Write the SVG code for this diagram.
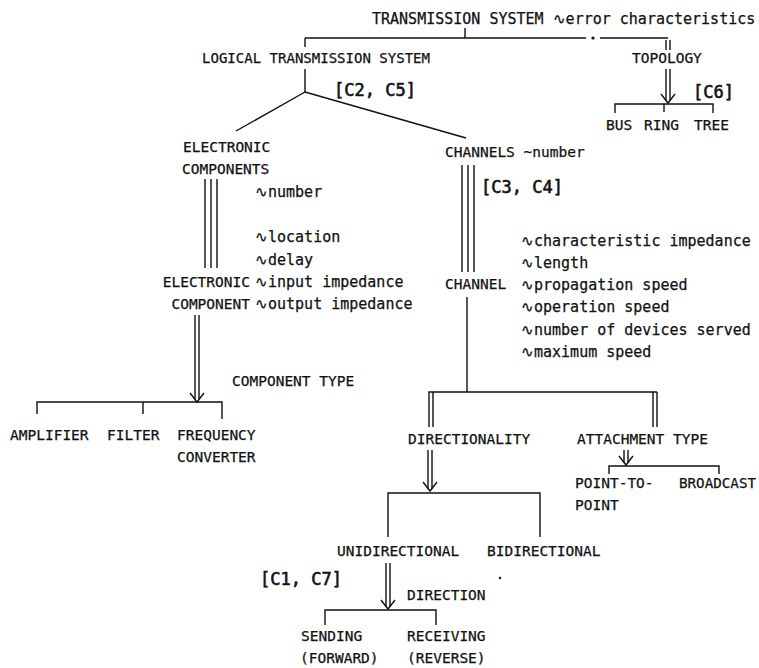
<svg xmlns="http://www.w3.org/2000/svg" width="759" height="668" viewBox="0 0 759 668">
<style>
text{font-family:"DejaVu Sans Mono","Liberation Mono",monospace;font-size:14.5px;fill:#111;stroke:#111;stroke-width:0.25}
.lc{font-size:15px}
.big{font-size:17px;stroke-width:0.6}
.r{text-anchor:end}
.ln{fill:none;stroke:#111;stroke-width:1.4}
</style>
<defs>
<path id="ah" d="M-7,-9 L0,0 L7,-9" class="ln"/>
</defs>
<rect width="759" height="668" fill="#fff"/>
<g id="connectors" class="ln">
<path d="M465,28V38 M305,38H586 M600,38H668 M305,38V47"/>
<circle cx="593" cy="38" r="0.9" fill="#111"/>
<path d="M666,40V50 M670,40V50"/>
<path d="M305,69V92 M305,92L236,131 M305,92L466,138"/>
<path d="M666,69V101 M670,69V101"/><use href="#ah" x="668" y="103"/>
<path d="M615,113V104H713V113 M664,104V112"/>
<path d="M205,179V268 M211,179V268 M217,179V268"/>
<path d="M195,315V399 M199,315V399"/><use href="#ah" x="197" y="402"/>
<path d="M37,414V402H222V419 M143,402V414"/>
<path d="M462,165V272 M468,165V272 M474,165V272"/>
<path d="M467,297V392 M429,427V392H657 M433,427V392 M653,392V427 M657,392V427"/>
<path d="M428,450V489 M432,450V489"/><use href="#ah" x="430" y="491"/>
<path d="M388,537V493H540V537"/>
<path d="M624,450V463 M628,450V463"/><use href="#ah" x="626" y="465"/>
<path d="M609,474V466H719V474"/>
<path d="M386,563V607 M390,563V607"/><use href="#ah" x="388" y="609"/>
<path d="M325,625V610H436V625"/>
</g>
<g id="transmission-system"><text class="lc" x="372" y="24">TRANSMISSION SYSTEM ∿error characteristics</text></g>
<g id="logical-transmission-system"><text x="202" y="63" textLength="228" lengthAdjust="spacingAndGlyphs">LOGICAL TRANSMISSION SYSTEM</text></g>
<g id="c2c5"><text class="big" x="334" y="96">[C2, C5]</text></g>
<g id="topology"><text x="632" y="63">TOPOLOGY</text></g>
<g id="c6"><text class="big" x="693" y="98">[C6]</text></g>
<g id="bus"><text x="606" y="130">BUS</text></g>
<g id="ring"><text x="644" y="130">RING</text></g>
<g id="tree"><text x="694" y="130">TREE</text></g>
<g id="electronic-components"><text x="183" y="152">ELECTRONIC</text><text x="182" y="174">COMPONENTS</text><text class="lc" x="255" y="197">∿number</text></g>
<g id="electronic-component"><text class="r" x="250" y="287">ELECTRONIC</text><text class="r" x="250" y="309">COMPONENT</text>
<text class="lc" x="255" y="242">∿location</text><text class="lc" x="255" y="265">∿delay</text><text class="lc" x="255" y="287">∿input impedance</text><text class="lc" x="255" y="309">∿output impedance</text></g>
<g id="component-type"><text x="232" y="386">COMPONENT TYPE</text></g>
<g id="amplifier"><text x="10" y="440">AMPLIFIER</text></g>
<g id="filter"><text x="107" y="440">FILTER</text></g>
<g id="frequency-converter"><text x="177" y="440">FREQUENCY</text><text x="177" y="462">CONVERTER</text></g>
<g id="channels"><text x="445" y="157">CHANNELS ~number</text></g>
<g id="c3c4"><text class="big" x="481" y="193">[C3, C4]</text></g>
<g id="channel"><text x="445" y="289">CHANNEL</text>
<text class="lc" x="521" y="246">∿characteristic impedance</text><text class="lc" x="521" y="268">∿length</text><text class="lc" x="521" y="290">∿propagation speed</text><text class="lc" x="521" y="312">∿operation speed</text><text class="lc" x="521" y="335">∿number of devices served</text><text class="lc" x="521" y="357">∿maximum speed</text></g>
<g id="directionality"><text x="408" y="444">DIRECTIONALITY</text></g>
<g id="attachment-type"><text x="577" y="444">ATTACHMENT TYPE</text></g>
<g id="point-to-point"><text x="575" y="488">POINT-TO-</text><text x="575" y="510">POINT</text></g>
<g id="broadcast"><text x="679" y="488" textLength="77" lengthAdjust="spacingAndGlyphs">BROADCAST</text></g>
<g id="unidirectional"><text x="337" y="556">UNIDIRECTIONAL</text></g>
<g id="bidirectional"><text x="487" y="556">BIDIRECTIONAL</text></g>
<g id="c1c7"><text class="big" x="260" y="585">[C1, C7]</text></g>
<g id="direction"><text x="407" y="600">DIRECTION</text></g>
<g id="sending"><text x="301" y="641">SENDING</text><text x="300" y="663">(FORWARD)</text></g>
<g id="receiving"><text x="407" y="641">RECEIVING</text><text x="407" y="663">(REVERSE)</text></g>
<circle cx="500" cy="578" r="1.2" fill="#111"/>
</svg>
